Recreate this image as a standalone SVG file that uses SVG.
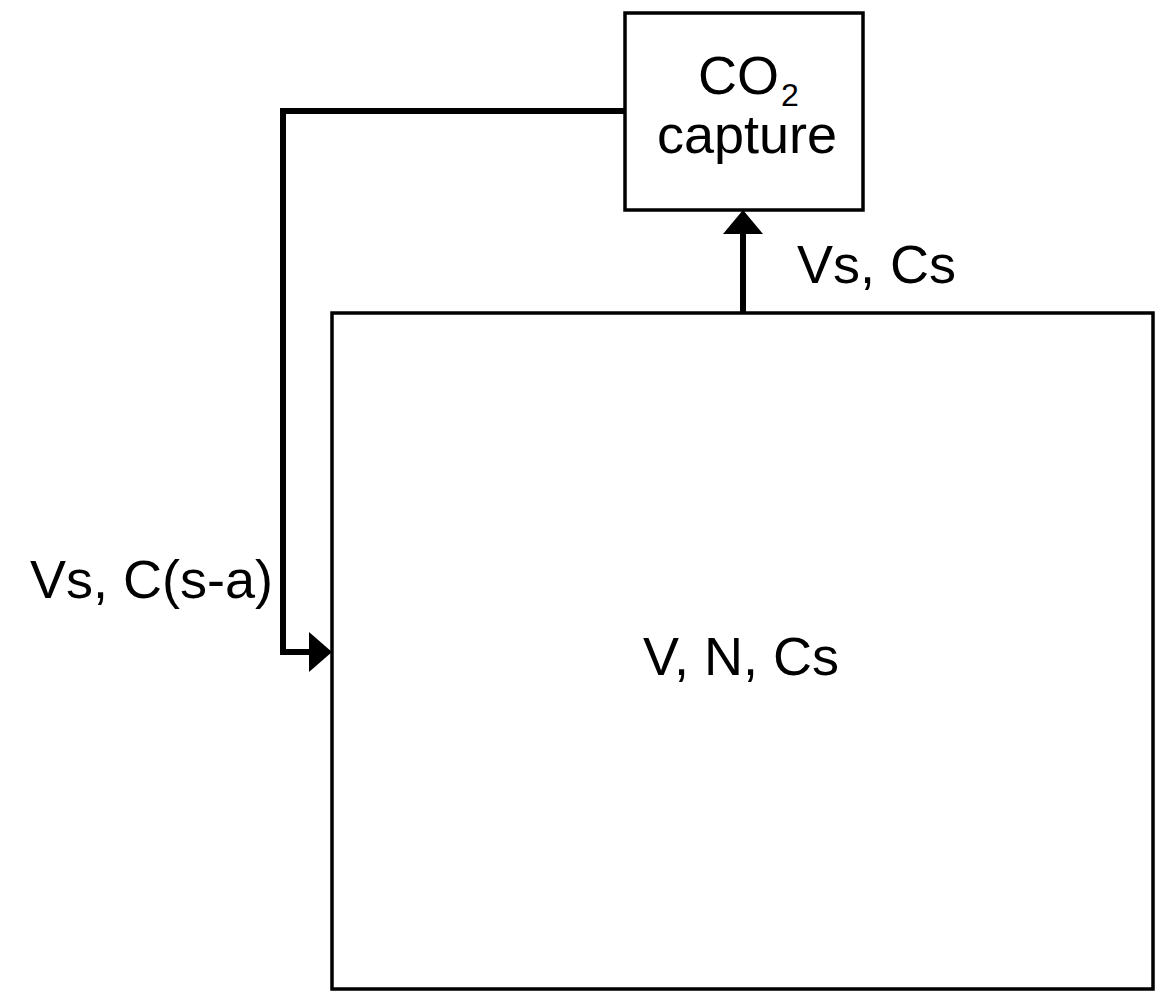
<svg xmlns="http://www.w3.org/2000/svg" width="1164" height="993" viewBox="0 0 1164 993">
<style>
.box{fill:#fff;stroke:#000;stroke-width:3.5}
.t{font-family:"Liberation Sans",Arial,sans-serif;font-size:54px;fill:#000}
.c{fill:none;stroke:#000;stroke-width:6}
.ah{fill:#000}
</style>
<rect width="1164" height="993" fill="#fff"/>
<g id="capture">
<rect class="box" x="625" y="13" width="238" height="197"/>
<text class="t" x="698" y="94">CO<tspan font-size="32" dx="2" dy="12">2</tspan></text>
<text class="t" x="657" y="153">capture</text>
</g>
<g id="main">
<rect class="box" x="332" y="313" width="821" height="676"/>
<text class="t" x="643" y="675">V, N, Cs</text>
</g>
<g id="connectors">
<line class="c" x1="743" y1="313" x2="743" y2="230"/>
<polygon class="ah" points="743,210 723,234 763,234"/>
<polyline class="c" points="625,111 283,111 283,652 312,652"/>
<polygon class="ah" points="332,652 309,632 309,672"/>
<text class="t" x="797" y="283">Vs, Cs</text>
<text class="t" x="30" y="598">Vs, C(s-a)</text>
</g>
</svg>
